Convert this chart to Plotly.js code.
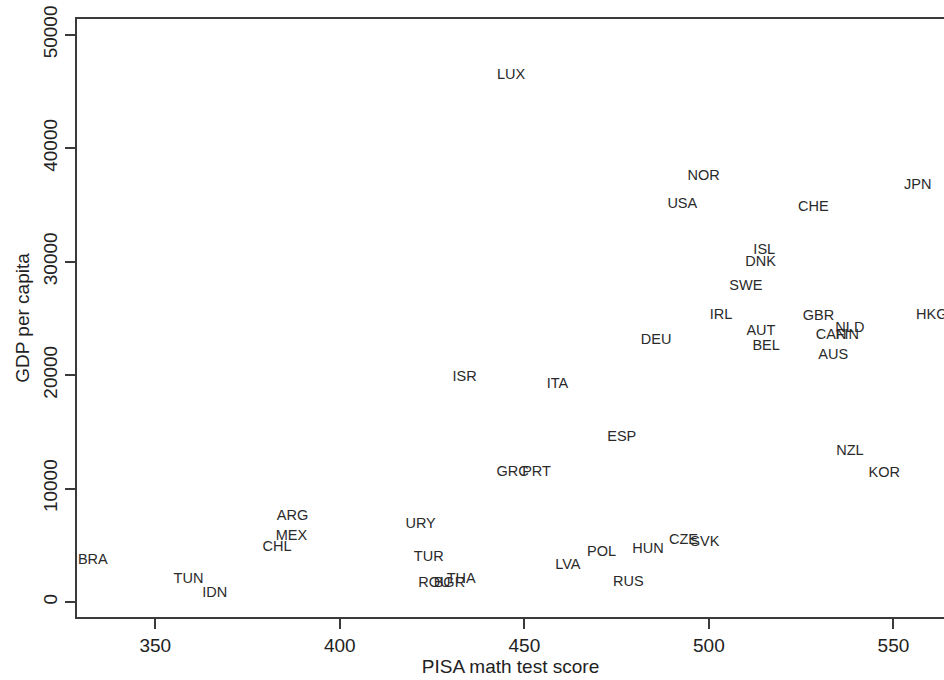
<!DOCTYPE html>
<html>
<head>
<meta charset="utf-8">
<script src="https://cdn.plot.ly/plotly-3.0.1.min.js"></script>
<style>
html,body{margin:0;padding:0;background:#fff;overflow:hidden;}
#chart{width:944px;height:680px;}
</style>
</head>
<body>
<div id="chart"></div>
<script>
const countries = ["LUX","NOR","USA","CHE","JPN","ISL","DNK","SWE","IRL","DEU","AUT","BEL","GBR","NLD","CAN","FIN","AUS","HKG","ISR","ITA","ESP","GRC","PRT","NZL","KOR","CZE","SVK","HUN","RUS","POL","LVA","URY","TUR","ROU","BGR","THA","ARG","MEX","CHL","BRA","TUN","IDN"];
const pisaScore = [446.4,498.6,492.8,528.3,556.6,515.0,514.0,510.0,503.3,485.7,514.1,515.5,529.7,538.2,533.1,537.5,533.7,560.4,433.8,459.0,476.4,446.8,453.3,538.2,547.5,493.1,498.9,483.5,478.2,470.9,461.8,421.9,424.1,425.6,429.7,432.9,387.2,386.9,383.0,333.1,359.0,366.1];
const gdpPerCapita = [46386,37500,35065,34765,36706,31033,29947,27856,25298,23092,23824,22562,25148,24124,23533,23533,21706,25298,19765,19182,14471,11418,11418,13236,11330,5444,5241,4650,1765,4359,3238,6830,3971,1624,1624,2003,7588,5797,4853,3680,2003,741];
const xTicks = [350,400,450,500,550];
const yTicks = [0,10000,20000,30000,40000,50000];

const fontFam = '"Liberation Sans", Arial, Helvetica, sans-serif';
const lineCol = '#3a3a3a';
const textCol = '#222222';

const trace = {
  x: pisaScore,
  y: gdpPerCapita,
  text: countries,
  mode: 'text',
  type: 'scatter',
  textposition: 'middle center',
  textfont: {family: fontFam, size: 14.5, color: '#2a2a2a'},
  hoverinfo: 'text',
  cliponaxis: true
};

const layout = {
  width: 944,
  height: 680,
  margin: {l: 77, r: 0, t: 19, b: 63, pad: 0},
  paper_bgcolor: '#ffffff',
  plot_bgcolor: '#ffffff',
  showlegend: false,
  font: {family: fontFam, color: textCol, size: 19},
  xaxis: {
    range: [328.8, 563.7],
    tickmode: 'array',
    tickvals: xTicks,
    ticktext: xTicks.map(String),
    ticks: 'outside',
    ticklen: 10,
    tickwidth: 2,
    tickcolor: lineCol,
    showline: true,
    linewidth: 2,
    linecolor: lineCol,
    mirror: true,
    showgrid: false,
    zeroline: false,
    tickfont: {family: fontFam, size: 19, color: textCol},
    title: {text: 'PISA math test score', font: {family: fontFam, size: 19, color: textCol}, standoff: 4},
    automargin: false
  },
  yaxis: {
    range: [-1324, 51388],
    tickmode: 'array',
    tickvals: yTicks,
    ticktext: yTicks.map(String),
    tickangle: -90,
    ticks: 'outside',
    ticklen: 10,
    tickwidth: 2,
    tickcolor: lineCol,
    showline: true,
    linewidth: 2,
    linecolor: lineCol,
    mirror: false,
    showgrid: false,
    zeroline: false,
    tickfont: {family: fontFam, size: 19, color: textCol},
    title: {text: 'GDP per capita', font: {family: fontFam, size: 19, color: textCol}, standoff: 6},
    automargin: false
  }
};

Plotly.newPlot('chart', [trace], layout, {displayModeBar: false, staticPlot: true});
</script>
</body>
</html>
